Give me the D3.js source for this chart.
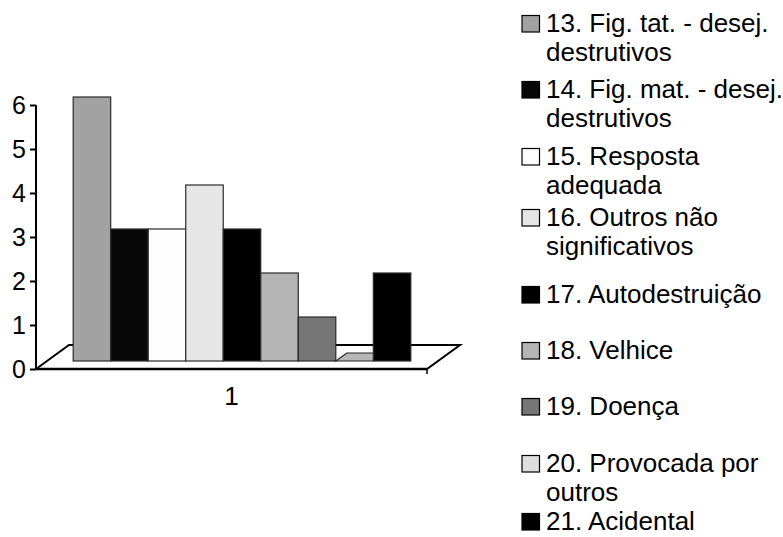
<!DOCTYPE html>
<html>
<head>
<meta charset="utf-8">
<script src="https://cdn.jsdelivr.net/npm/d3@7"></script>
<style>
  html, body { margin: 0; padding: 0; background: #fff; }
  svg { display: block; font-family: "Liberation Sans", Arial, Helvetica, sans-serif; }
</style>
</head>
<body>
<svg id="chart" width="783" height="537"></svg>
<script>
// Categories along the x axis
const categories = ["1"];

// One series per response type
const seriesNames = [
  "13. Fig. tat. - desej. destrutivos",
  "14. Fig. mat. - desej. destrutivos",
  "15. Resposta adequada",
  "16. Outros não significativos",
  "17. Autodestruição",
  "18. Velhice",
  "19. Doença",
  "20. Provocada por outros",
  "21. Acidental"
];

// Counts for category "1", one per series
const seriesValues = [6, 3, 3, 4, 3, 2, 1, 0, 2];

// Y axis tick labels
const yTicks = [0, 1, 2, 3, 4, 5, 6];

// Fill for each series
const seriesColors = [
  "#a2a2a2", "#080808", "#fdfdfd", "#e6e6e6", "#000000",
  "#b4b4b4", "#767676", "#dedede", "#000000"
];

const svg = d3.select("#chart");

// Plot geometry
const plot = { left: 36, right: 427, top: 105, bottom: 369 };
const floorDX = 33, floorDY = 24;   // depth of the floor
const barDX = 10.5, barDY = 8;      // where the bars stand on the floor

const y = d3.scaleLinear().domain([0, 6]).range([plot.bottom, plot.top]);
const x0 = d3.scaleBand().domain(categories).range([plot.left, plot.right])
  .paddingInner(0).paddingOuter(0.079);
const x1 = d3.scaleBand().domain(seriesNames).range([0, x0.bandwidth()]).padding(0);

// Floor (parallelogram)
const floorPts = [
  [plot.left, plot.bottom],
  [plot.left + floorDX, plot.bottom - floorDY],
  [plot.right + floorDX, plot.bottom - floorDY],
  [plot.right, plot.bottom]
];
svg.append("path")
  .attr("d", "M" + floorPts.map(p => p.join(",")).join("L") + "Z")
  .attr("fill", "#fff")
  .attr("stroke", "#000")
  .attr("stroke-width", 2)
  .attr("stroke-linejoin", "miter");

// Thicker front edge of the floor
svg.append("line")
  .attr("x1", plot.left).attr("x2", plot.right)
  .attr("y1", plot.bottom).attr("y2", plot.bottom)
  .attr("stroke", "#000").attr("stroke-width", 2.5);

// Category boundary tick
svg.append("line")
  .attr("x1", plot.right).attr("x2", plot.right)
  .attr("y1", plot.bottom).attr("y2", plot.bottom + 5)
  .attr("stroke", "#000").attr("stroke-width", 1.5);

// Bars
const rows = seriesNames.map((name, i) => ({ name, value: seriesValues[i], color: seriesColors[i] }));
const gBars = svg.append("g");
categories.forEach(cat => {
  rows.forEach(d => {
    const bx = x0(cat) + x1(d.name) + barDX;
    const bw = x1.bandwidth();
    const base = y(0) - barDY;
    const top = y(d.value) - barDY;
    if (d.value === 0) {
      // Flat cap of an empty column lying on the floor
      const capDX = 11, capDY = 8;
      gBars.append("path")
        .attr("d", `M${bx},${base}L${bx + capDX},${base - capDY}L${bx + bw + capDX},${base - capDY}L${bx + bw},${base}Z`)
        .attr("fill", "#b6b6b6")
        .attr("stroke", "#222")
        .attr("stroke-width", 1.2);
    } else {
      gBars.append("rect")
        .attr("x", bx).attr("y", top)
        .attr("width", bw).attr("height", base - top)
        .attr("fill", d.color)
        .attr("stroke", "#2a2a2a")
        .attr("stroke-width", 1.2);
    }
  });
});

// Y axis
const yAxis = d3.axisLeft(y).tickValues(yTicks).tickSize(6).tickPadding(4).tickFormat(d3.format("d"));
const gY = svg.append("g").attr("transform", `translate(${plot.left},0)`).call(yAxis);
gY.select(".domain").attr("stroke", "#000").attr("stroke-width", 2).attr("d", `M0,${plot.top}V${plot.bottom}`);
gY.selectAll(".tick line").attr("stroke", "#000").attr("stroke-width", 2);
gY.selectAll(".tick text")
  .attr("font-size", 25).attr("fill", "#000")
  .attr("font-family", "'Liberation Sans', Arial, sans-serif");

// Category label
svg.append("g").selectAll("text").data(categories).join("text")
  .attr("x", d => x0(d) + x0.bandwidth() / 2)
  .attr("y", 405)
  .attr("text-anchor", "middle")
  .attr("font-size", 26)
  .text(d => d);

// Legend
const legendX = 522, textX = 546, maxW = 238, lineH = 28.5;
const legendBaselines = [32, 98, 165, 226, 303, 359, 415, 472, 530];
const gLeg = svg.append("g");
rows.forEach((d, i) => {
  const b = legendBaselines[i];
  gLeg.append("rect")
    .attr("x", legendX).attr("y", b - 16.5)
    .attr("width", 17.5).attr("height", 16.5)
    .attr("fill", d.color)
    .attr("stroke", "#000").attr("stroke-width", 1.2);
  const t = gLeg.append("text").attr("x", textX).attr("y", b).attr("font-size", 26).attr("fill", "#000");
  // word wrap within legend width
  const words = d.name.split(" ");
  let line = [];
  let lineNo = 0;
  let tspan = t.append("tspan").attr("x", textX).attr("y", b);
  words.forEach(w => {
    line.push(w);
    tspan.text(line.join(" "));
    if (tspan.node().getComputedTextLength() > maxW && line.length > 1) {
      line.pop();
      tspan.text(line.join(" "));
      line = [w];
      lineNo++;
      tspan = t.append("tspan").attr("x", textX).attr("y", b + lineNo * lineH).text(w);
    }
  });
});
</script>
</body>
</html>
